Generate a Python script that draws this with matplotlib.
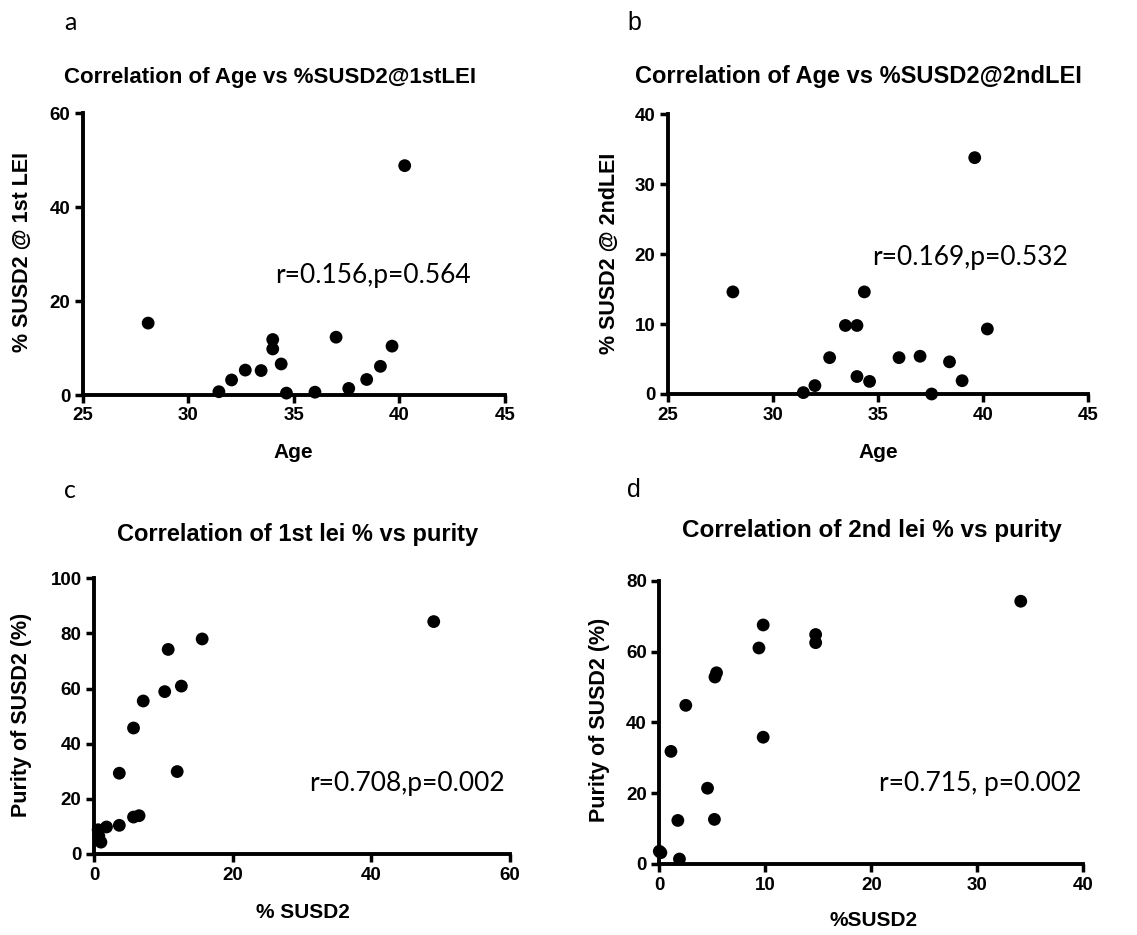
# four correlation scatter panels (age vs %SUSD2, %SUSD2 vs purity)

import numpy as np
import matplotlib
matplotlib.use('Agg')
import matplotlib.pyplot as plt

W, H = 1137, 935

# panel a: age vs % SUSD2 at 1st LEI
age_a = [28.1, 31.45, 32.05, 32.7, 33.45, 34.0, 34.0, 34.4, 34.65, 36.0, 37.0, 37.6, 38.45, 39.1, 39.65, 40.25]
lei1_a = [15.3, 0.7, 3.2, 5.3, 5.2, 11.8, 9.8, 6.6, 0.4, 0.6, 12.3, 1.4, 3.3, 6.1, 10.4, 48.8]

# panel b: age vs % SUSD2 at 2nd LEI
age_b = [28.1, 31.45, 32.0, 32.7, 33.45, 34.0, 34.0, 34.35, 34.6, 36.0, 37.0, 37.55, 38.4, 39.0, 39.6, 40.2]
lei2_b = [14.6, 0.2, 1.2, 5.2, 9.8, 9.8, 2.5, 14.6, 1.8, 5.2, 5.4, 0.0, 4.6, 1.9, 33.8, 9.3]

# panel c: % SUSD2 (1st LEI) vs purity
lei1_c = [49.0, 15.6, 10.7, 12.6, 10.2, 7.1, 5.7, 3.65, 12.0, 3.65, 5.7, 6.5, 1.8, 0.6, 0.7, 1.0]
pur_c = [84.3, 78.0, 74.2, 60.9, 58.9, 55.5, 45.7, 29.3, 29.9, 10.4, 13.4, 13.9, 9.8, 8.8, 6.5, 4.3]

# panel d: % SUSD2 (2nd LEI) vs purity
lei2_d = [34.1, 9.8, 9.4, 14.75, 14.75, 5.4, 5.25, 2.5, 1.1, 9.8, 4.55, 1.75, 5.2, 0.15, 0.0, 1.9]
pur_d = [74.2, 67.5, 61.0, 64.8, 62.5, 54.0, 52.8, 44.8, 31.8, 35.8, 21.4, 12.3, 12.6, 3.2, 3.6, 1.4]

panels = [
    dict(x=age_a, y=lei1_a, xlim=(25, 45), xt=[25, 30, 35, 40, 45], ylim=(0, 60), yt=[0, 20, 40, 60],
         box=(82.7, 505, 113, 395), letter='a', lpos=(70, 23), lfont='Lato',
         title='Correlation of Age vs %SUSD2@1stLEI', tsize=16, tpos=(270, 77),
         xlabel='Age', xlpos=(293, 452), ylabel='% SUSD2 @ 1st LEI', ylpos=(22, 252),
         note='r=0.156,p=0.564', npos=(373, 275)),
    dict(x=age_b, y=lei2_b, xlim=(25, 45), xt=[25, 30, 35, 40, 45], ylim=(0, 40), yt=[0, 10, 20, 30, 40],
         box=(667.7, 1088.3, 114.3, 394), letter='b', lpos=(634, 23), lfont='Liberation Sans',
         title='Correlation of Age vs %SUSD2@2ndLEI', tsize=17, tpos=(858, 77),
         xlabel='Age', xlpos=(878, 452), ylabel='% SUSD2 @ 2ndLEI', ylpos=(609, 253),
         note='r=0.169,p=0.532', npos=(970, 258)),
    dict(x=lei1_c, y=pur_c, xlim=(0, 60), xt=[0, 20, 40, 60], ylim=(0, 100), yt=[0, 20, 40, 60, 80, 100],
         box=(94, 510, 578.3, 854), letter='c', lpos=(70, 491), lfont='Lato',
         title='Correlation of 1st lei % vs purity', tsize=17, tpos=(298, 535),
         xlabel='% SUSD2', xlpos=(303, 912), ylabel='Purity of SUSD2 (%)', ylpos=(22, 715),
         note='r=0.708,p=0.002', npos=(407, 784)),
    dict(x=lei2_d, y=pur_d, xlim=(0, 40), xt=[0, 10, 20, 30, 40], ylim=(0, 80), yt=[0, 20, 40, 60, 80],
         box=(659.3, 1083.3, 580.7, 864), letter='d', lpos=(634, 490), lfont='Liberation Sans',
         title='Correlation of 2nd lei % vs purity', tsize=17.5, tpos=(872, 530),
         xlabel='%SUSD2', xlpos=(874, 920), ylabel='Purity of SUSD2 (%)', ylpos=(600, 720),
         note='r=0.715, p=0.002', npos=(980, 784)),
]

fig = plt.figure(figsize=(W / 100, H / 100), dpi=100)

def fx(px):
    return px / W

def fy(py):
    return 1 - py / H

for p in panels:
    x0, x1, yt, yb = p['box']
    ax = fig.add_axes([fx(x0), fy(yb), (x1 - x0) / W, (yb - yt) / H])
    ax.scatter(p['x'], p['y'], s=85, c='black', edgecolors='none', clip_on=False, zorder=3)
    ax.set_xlim(*p['xlim'])
    ax.set_ylim(*p['ylim'])
    ax.set_xticks(p['xt'])
    ax.set_yticks(p['yt'])
    for s in ['top', 'right']:
        ax.spines[s].set_visible(False)
    for s in ['left', 'bottom']:
        ax.spines[s].set_linewidth(2.8)
    ax.tick_params(width=2.5, length=6, pad=3, direction='out')
    for lab in ax.get_xticklabels() + ax.get_yticklabels():
        lab.set_fontfamily('Liberation Sans')
        lab.set_fontweight('bold')
        lab.set_fontsize(13.5)

    fig.text(fx(p['lpos'][0]), fy(p['lpos'][1]), p['letter'], family=p['lfont'],
             fontsize=18, ha='center', va='center')
    fig.text(fx(p['tpos'][0]), fy(p['tpos'][1]), p['title'], family='Liberation Sans',
             fontweight='bold', fontsize=p['tsize'], ha='center', va='center')
    fig.text(fx(p['xlpos'][0]), fy(p['xlpos'][1]), p['xlabel'], family='Liberation Sans',
             fontweight='bold', fontsize=15, ha='center', va='center')
    fig.text(fx(p['ylpos'][0]), fy(p['ylpos'][1]), p['ylabel'], family='Liberation Sans',
             fontweight='bold', fontsize=15.5, ha='center', va='center', rotation=90)
    fig.text(fx(p['npos'][0]), fy(p['npos'][1]), p['note'], family='Lato',
             fontsize=19, ha='center', va='center')

plt.savefig('out.png', dpi=100)
